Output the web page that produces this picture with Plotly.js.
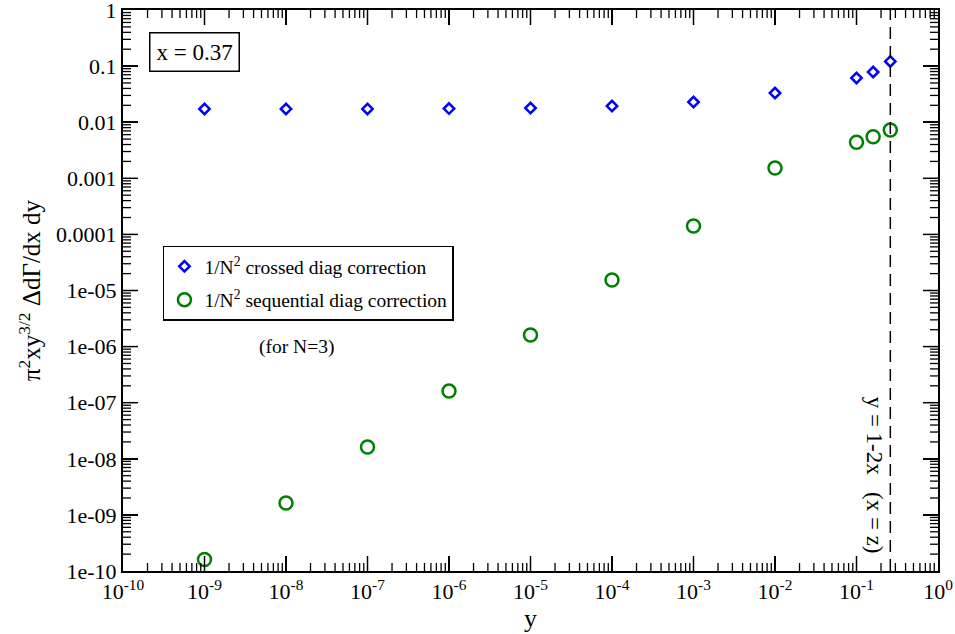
<!DOCTYPE html>
<html><head><meta charset="utf-8">
<script src="https://cdn.plot.ly/plotly-3.0.1.min.js"></script>
<style>body{margin:0;background:#fff}#c{width:955px;height:634px}</style>
</head><body><div id="c"></div>
<script>
const yVals = [1e-9, 1e-8, 1e-7, 1e-6, 1e-5, 1e-4, 1e-3, 1e-2, 0.1, 0.16, 0.26];
const crossed = [0.0172, 0.0172, 0.0172, 0.0175, 0.0179, 0.0194, 0.0229, 0.0331, 0.0614, 0.0785, 0.121];
const sequential = [1.6e-10, 1.63e-9, 1.62e-8, 1.61e-7, 1.61e-6, 1.54e-5, 1.41e-4, 1.53e-3, 0.00438, 0.00552, 0.00726];
const xTickVals = [1e-10,1e-9,1e-8,1e-7,1e-6,1e-5,1e-4,1e-3,1e-2,1e-1,1];
const xTickText = ['10<sup>-10</sup>','10<sup>-9</sup>','10<sup>-8</sup>','10<sup>-7</sup>','10<sup>-6</sup>','10<sup>-5</sup>','10<sup>-4</sup>','10<sup>-3</sup>','10<sup>-2</sup>','10<sup>-1</sup>','10<sup>0</sup>'];
const yTickVals = [1e-10,1e-9,1e-8,1e-7,1e-6,1e-5,1e-4,1e-3,1e-2,1e-1,1];
const yTickText = ['1e-10','1e-09','1e-08','1e-07','1e-06','1e-05','0.0001','0.001','0.01','0.1','1'];
const xBoundary = 0.26;

// minor tick positions 2..9 in every decade
const minorVals = [];
for (let d = -10; d < 0; d++) for (let k = 2; k <= 9; k++) minorVals.push(k * Math.pow(10, d));

const font = 'Liberation Serif';
const R = [-10, 0];
const M = {l: 123, r: 17, t: 10, b: 63};
const W = 955, H = 634;
const plotW = W - M.l - M.r, plotH = H - M.t - M.b;

const traces = [
  {x: yVals, y: crossed, mode: 'markers', type: 'scatter', legendgroup: 'a',
   name: '1/N<sup>2</sup> crossed diag correction',
   marker: {symbol: 'diamond-open', size: 8, color: '#0000ff', line: {width: 2.5, color: '#0000ff'}}},
  {x: yVals, y: sequential, mode: 'markers', type: 'scatter', legendgroup: 'b',
   name: '1/N<sup>2</sup> sequential diag correction',
   marker: {symbol: 'circle-open', size: 13, color: '#008000', line: {width: 2.5, color: '#008000'}}}
];
function ax(extra) {
  return Object.assign({
    type: 'log', showgrid: false, zeroline: false,
    showline: true, linewidth: 2, linecolor: '#000', mirror: 'allticks',
    ticks: 'inside', ticklen: 15, tickwidth: 1.5, tickcolor: '#000',
    tickmode: 'array', range: R, ticklabeloverflow: 'allow',
    tickfont: {family: font, size: 22, color: '#000'}
  }, extra);
}

// tick marks on all four sides, placed through the axes' own scales
const tickShapes = [];
function addTicks(vals, len, width) {
  const fx = len / plotH, fy = len / plotW;
  const st = {color: '#000', width: width};
  vals.forEach(v => {
    tickShapes.push({type: 'line', xref: 'x', yref: 'paper', x0: v, x1: v, y0: 0, y1: fx, line: st});
    tickShapes.push({type: 'line', xref: 'x', yref: 'paper', x0: v, x1: v, y0: 1, y1: 1 - fx, line: st});
    tickShapes.push({type: 'line', xref: 'paper', yref: 'y', y0: v, y1: v, x0: 0, x1: fy, line: st});
    tickShapes.push({type: 'line', xref: 'paper', yref: 'y', y0: v, y1: v, x0: 1, x1: 1 - fy, line: st});
  });
}
addTicks(minorVals, 8, 1.3);
addTicks(xTickVals.slice(1, -1), 15, 1.5);

const layout = {
  width: W, height: H,
  margin: M,
  paper_bgcolor: '#fff', plot_bgcolor: '#fff',
  font: {family: font, color: '#000', size: 22},
  showlegend: true,
  legend: {x: 0.049, y: 0.58, xanchor: 'left', yanchor: 'top',
    bordercolor: '#000', borderwidth: 1.5, bgcolor: '#fff', traceorder: 'grouped',
    font: {family: font, size: 19.5, color: '#000'}, tracegroupgap: 5},
  xaxis: ax({tickvals: xTickVals, ticktext: xTickText,
    title: {text: 'y', font: {family: font, size: 26, color: '#000'}, standoff: 0}}),
  yaxis: ax({tickvals: yTickVals, ticktext: yTickText,
    title: {text: 'π<sup>2</sup>xy<sup>3/2</sup> ΔdΓ/dx dy', font: {family: font, size: 25, color: '#000'}, standoff: 8}}),
  shapes: tickShapes.concat([
    {type: 'line', xref: 'x', yref: 'paper', x0: xBoundary, x1: xBoundary, y0: 0, y1: 1,
     line: {color: '#000', width: 1.5, dash: '12px,7px'}}
  ]),
  annotations: [
    {xref: 'paper', yref: 'paper', x: 0.032, y: 0.925, xanchor: 'left', yanchor: 'middle',
     text: 'x = 0.37', showarrow: false, font: {family: font, size: 23, color: '#000'},
     bordercolor: '#000', borderwidth: 1.5, borderpad: 6, bgcolor: '#fff'},
    {xref: 'paper', yref: 'paper', x: 0.213, y: 0.4, xanchor: 'center', yanchor: 'middle',
     text: '(for N=3)', showarrow: false, font: {family: font, size: 19.5, color: '#000'}},
    {xref: 'x', yref: 'paper', x: Math.log10(0.166), y: 0.171, xanchor: 'center', yanchor: 'middle',
     text: 'y = 1-2x   (x = z)', textangle: 90, showarrow: false,
     font: {family: font, size: 23, color: '#000'}}
  ]
};
Plotly.newPlot('c', traces, layout, {displayModeBar: false, staticPlot: true});
</script></body></html>
